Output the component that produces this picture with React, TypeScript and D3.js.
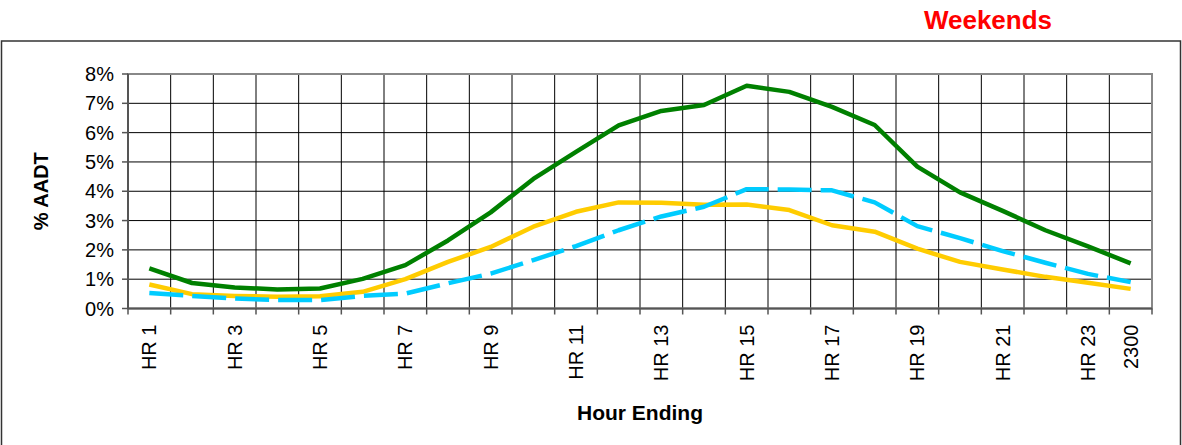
import React from "react";
import * as d3 from "d3";

const categories: string[] = [
  "HR 1", "HR 2", "HR 3", "HR 4", "HR 5", "HR 6", "HR 7", "HR 8", "HR 9", "HR 10",
  "HR 11", "HR 12", "HR 13", "HR 14", "HR 15", "HR 16", "HR 17", "HR 18", "HR 19",
  "HR 20", "HR 21", "HR 22", "HR 23", "2300",
];
const shownLabels: string[] = [
  "HR 1", "HR 3", "HR 5", "HR 7", "HR 9", "HR 11", "HR 13", "HR 15", "HR 17",
  "HR 19", "HR 21", "HR 23", "2300",
];
const greenSeries: number[] = [
  1.37, 0.87, 0.72, 0.65, 0.68, 1.01, 1.48, 2.32, 3.28, 4.42, 5.34, 6.25,
  6.74, 6.94, 7.6, 7.39, 6.88, 6.26, 4.84, 3.96, 3.33, 2.67, 2.12, 1.54,
];
const yellowSeries: number[] = [
  0.82, 0.49, 0.43, 0.4, 0.42, 0.57, 1.0, 1.59, 2.1, 2.79, 3.3, 3.62,
  3.61, 3.54, 3.55, 3.36, 2.84, 2.62, 2.04, 1.59, 1.33, 1.08, 0.88, 0.67,
];
const blueSeries: number[] = [
  0.53, 0.43, 0.34, 0.29, 0.29, 0.43, 0.51, 0.86, 1.19, 1.65, 2.13, 2.67,
  3.14, 3.47, 4.07, 4.06, 4.03, 3.62, 2.81, 2.4, 1.96, 1.56, 1.18, 0.9,
];
const yTicks: number[] = [0, 1, 2, 3, 4, 5, 6, 7, 8];
const title = "Weekends";
const xTitle = "Hour Ending";
const yTitle = "% AADT";

const W = 1182;
const H = 445;
const plot = { left: 128, right: 1152, top: 74, bottom: 308.5 };
const FONT = "Liberation Sans, Arial, sans-serif";

export default function App() {
  const x = d3
    .scaleBand<string>()
    .domain(categories)
    .range([plot.left, plot.right])
    .padding(0);
  const y = d3.scaleLinear().domain([0, 8]).range([plot.bottom, plot.top]);
  const cx = (i: number) => (x(categories[i]) as number) + x.bandwidth() / 2;
  const line = d3
    .line<number>()
    .x((_, i) => cx(i))
    .y((d) => y(d));

  const boundaries = d3.range(categories.length + 1).map(
    (i) => plot.left + i * x.bandwidth()
  );

  const series = [
    { data: greenSeries, color: "#008000", dash: undefined as string | undefined, w: 4.5 },
    { data: yellowSeries, color: "#FFCC00", dash: undefined as string | undefined, w: 4.5 },
    { data: blueSeries, color: "#00CCFF", dash: "34 9", w: 4.5 },
  ];

  return (
    <svg
      width={W}
      height={H}
      style={{ position: "absolute", left: 0, top: 0, background: "#fff" }}
      fontFamily={FONT}
    >
      <rect x={0} y={0} width={W} height={H} fill="#fff" />
      <text
        x={988}
        y={29}
        textAnchor="middle"
        fontSize={26}
        fontWeight="bold"
        fill="#FF0000"
      >
        {title}
      </text>
      <rect
        x={1.5}
        y={41}
        width={1179}
        height={420}
        fill="none"
        stroke="#333"
        strokeWidth={1.5}
      />
      {yTicks.map((t) => (
        <line
          key={"h" + t}
          x1={plot.left}
          x2={plot.right}
          y1={y(t)}
          y2={y(t)}
          stroke="#000"
          strokeWidth={1}
        />
      ))}
      {boundaries.map((bx, i) => (
        <line
          key={"v" + i}
          x1={bx}
          x2={bx}
          y1={plot.top}
          y2={plot.bottom}
          stroke="#000"
          strokeWidth={1}
        />
      ))}
      <rect
        x={plot.left}
        y={plot.top}
        width={plot.right - plot.left}
        height={plot.bottom - plot.top}
        fill="none"
        stroke="#888"
        strokeWidth={2}
      />
      <line
        x1={plot.left}
        x2={plot.left}
        y1={plot.top}
        y2={plot.bottom}
        stroke="#555"
        strokeWidth={2}
      />
      <line
        x1={plot.left}
        x2={plot.right}
        y1={plot.bottom}
        y2={plot.bottom}
        stroke="#555"
        strokeWidth={2}
      />
      {yTicks.map((t) => (
        <g key={"yt" + t}>
          <line
            x1={plot.left - 6}
            x2={plot.left}
            y1={y(t)}
            y2={y(t)}
            stroke="#555"
            strokeWidth={1.5}
          />
          <text
            x={plot.left - 14}
            y={y(t) + 7}
            textAnchor="end"
            fontSize={20}
            fill="#000"
          >
            {t + "%"}
          </text>
        </g>
      ))}
      {boundaries.map((bx, i) => (
        <line
          key={"xt" + i}
          x1={bx}
          x2={bx}
          y1={plot.bottom}
          y2={plot.bottom + 6}
          stroke="#555"
          strokeWidth={1.5}
        />
      ))}
      {categories.map((c, i) =>
        shownLabels.includes(c) ? (
          <text
            key={"xl" + i}
            transform={`translate(${cx(i) + 7},${plot.bottom + 16}) rotate(-90)`}
            textAnchor="end"
            fontSize={20}
            fill="#000"
          >
            {c}
          </text>
        ) : null
      )}
      <text
        x={(plot.left + plot.right) / 2}
        y={420}
        textAnchor="middle"
        fontSize={21}
        fontWeight="bold"
        fill="#000"
      >
        {xTitle}
      </text>
      <text
        transform={`translate(48,${(plot.top + plot.bottom) / 2}) rotate(-90)`}
        textAnchor="middle"
        fontSize={20}
        fontWeight="bold"
        fill="#000"
      >
        {yTitle}
      </text>
      {series.map((s, k) => (
        <path
          key={"s" + k}
          d={line(s.data) || ""}
          fill="none"
          stroke={s.color}
          strokeWidth={s.w}
          strokeDasharray={s.dash}
          strokeLinejoin="round"
        />
      ))}
    </svg>
  );
}
